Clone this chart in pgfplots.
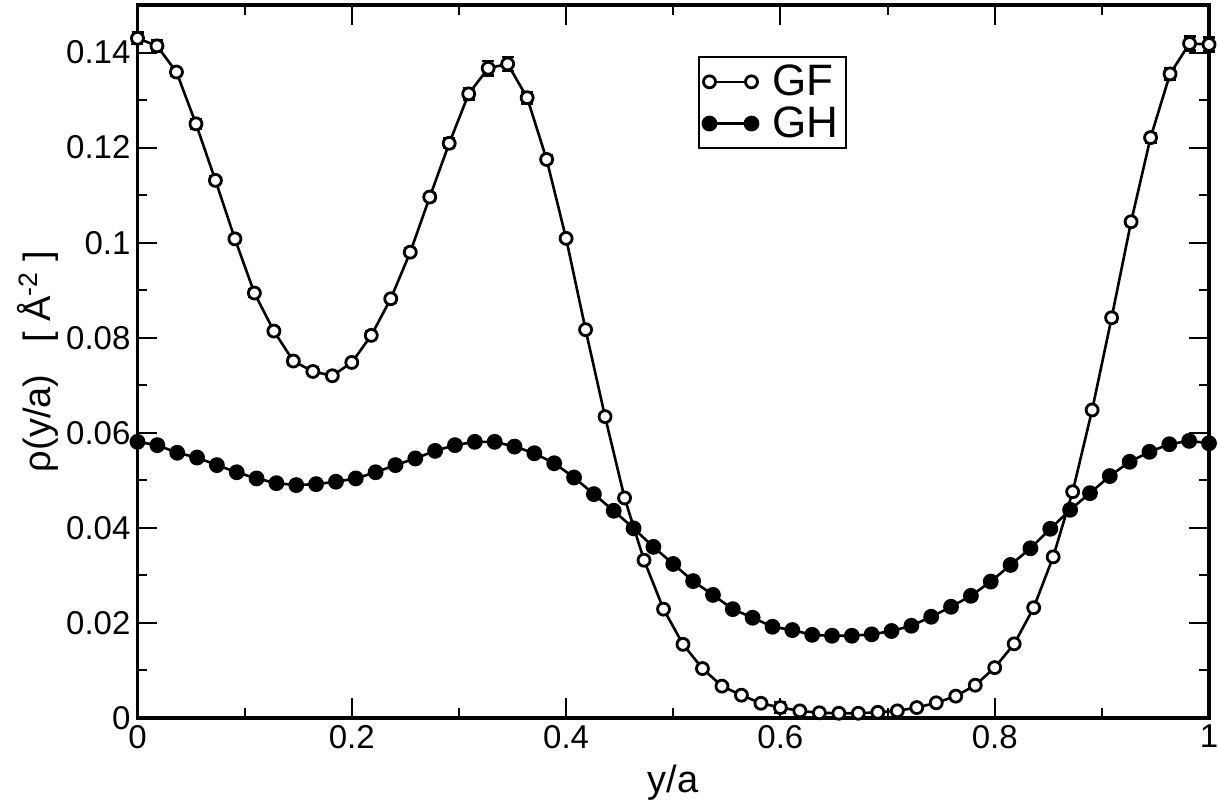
\documentclass[border=0pt]{standalone}
\usepackage{pgfplots}
\pgfplotsset{compat=1.18}
\usepackage{pgfplotstable}
\usepackage{fontspec}
\setmainfont{Liberation Sans}

\pgfplotstableread{
x y e
0 0.1430 0.0012
0.01818 0.1414 0.0012
0.03636 0.1359 0.0008
0.05455 0.1250 0.0010
0.07273 0.1131 0.0008
0.09091 0.1008 0.0008
0.10909 0.0894 0.0008
0.12727 0.0814 0.0008
0.14545 0.0751 0.0008
0.16364 0.0729 0.0008
0.18182 0.0720 0.0006
0.2 0.0748 0.0006
0.21818 0.0805 0.0008
0.23636 0.0882 0.0008
0.25455 0.0980 0.0008
0.27273 0.1096 0.0008
0.29091 0.1209 0.0010
0.30909 0.1313 0.0012
0.32727 0.1367 0.0015
0.34545 0.1376 0.0015
0.36364 0.1305 0.0012
0.38182 0.1175 0.0008
0.4 0.1009 0.0006
0.41818 0.0817 0.0006
0.43636 0.0634 0.0006
0.45455 0.0463 0.0005
0.47273 0.0332 0.0005
0.49091 0.0229 0.0005
0.50909 0.0155 0.0005
0.52727 0.0104 0.0005
0.54545 0.0067 0.0005
0.56364 0.0048 0.0005
0.58182 0.0031 0.0005
0.6 0.0022 0.0012
0.61818 0.0015 0.0005
0.63636 0.0011 0.0005
0.65455 0.0010 0.0005
0.67273 0.0010 0.0005
0.69091 0.0012 0.0005
0.70909 0.0015 0.0005
0.72727 0.0022 0.0005
0.74545 0.0032 0.0005
0.76364 0.0046 0.0005
0.78182 0.0069 0.0005
0.8 0.0106 0.0005
0.81818 0.0156 0.0005
0.83636 0.0232 0.0005
0.85455 0.0339 0.0005
0.87273 0.0476 0.0005
0.89091 0.0648 0.0006
0.90909 0.0842 0.0008
0.92727 0.1044 0.0008
0.94545 0.1221 0.0010
0.96364 0.1355 0.0012
0.98182 0.1419 0.0015
1 0.1417 0.0015
}\gfdata

\pgfplotstableread{
x y
0 0.0581
0.01852 0.0574
0.03704 0.0558
0.05556 0.0548
0.07407 0.0532
0.09259 0.0517
0.11111 0.0504
0.12963 0.0494
0.14815 0.0490
0.16667 0.0492
0.18519 0.0497
0.2037 0.0504
0.22222 0.0517
0.24074 0.0532
0.25926 0.0546
0.27778 0.0562
0.2963 0.0574
0.31481 0.0581
0.33333 0.0581
0.35185 0.0571
0.37037 0.0557
0.38889 0.0536
0.40741 0.0506
0.42593 0.0471
0.44444 0.0436
0.46296 0.0399
0.48148 0.0360
0.5 0.0324
0.51852 0.0288
0.53704 0.0259
0.55556 0.0229
0.57407 0.0211
0.59259 0.0192
0.61111 0.0185
0.62963 0.0175
0.64815 0.0173
0.66667 0.0173
0.68519 0.0176
0.7037 0.0183
0.72222 0.0194
0.74074 0.0213
0.75926 0.0234
0.77778 0.0257
0.7963 0.0287
0.81481 0.0322
0.83333 0.0357
0.85185 0.0398
0.87037 0.0438
0.88889 0.0473
0.90741 0.0509
0.92593 0.0539
0.94444 0.0560
0.96296 0.0576
0.98148 0.0583
1 0.0578
}\ghdata

\begin{document}
\begin{tikzpicture}
\begin{axis}[
  scale only axis,
  width=535.75pt, height=356.5pt,
  xmin=0, xmax=1, ymin=0, ymax=0.15,
  clip=false,
  axis line style={line width=1.6pt},
  tick style={line width=1pt, black},
  tick align=inside,
  major tick length=10pt,
  minor tick length=5pt,
  xtick={0,0.2,0.4,0.6,0.8,1},
  minor x tick num=1,
  ytick={0,0.02,0.04,0.06,0.08,0.1,0.12,0.14},
  minor y tick num=1,
  scaled y ticks=false,
  scaled x ticks=false,
  /pgf/number format/assume math mode=true,
  /pgf/number format/fixed,
  /pgf/number format/precision=2,
  ticklabel style={font=\fontsize{16.5}{19}\selectfont},
  xlabel={y/a},
  ylabel={ρ(y/a) \ \ [ Å\textsuperscript{-2} ]},
  every axis x label/.style={at={(axis description cs:0.5,0)}, yshift=-32.5pt, anchor=center, font=\fontsize{19}{22}\selectfont},
  every axis y label/.style={at={(axis description cs:0,0.5)}, xshift=-50pt, rotate=90, anchor=center, font=\fontsize{19}{22}\selectfont},
  legend style={at={(0.523,0.9285)}, anchor=north west, draw=black, line width=1pt,
    font=\fontsize{22}{22}\selectfont, inner sep=2pt, row sep=0pt,
    /tikz/every odd column/.append style={column sep=5pt}},
  legend cell align=left,
  legend image code/.code={\draw[#1] plot coordinates {(0pt,0pt) (21pt,0pt)};},
]
\addplot[black, line width=1.3pt, mark=*, mark size=3pt,
  mark options={fill=white, line width=1.4pt},
  error bars/.cd, y dir=both, y explicit,
  error bar style={line width=1.2pt},
  error mark options={rotate=90, mark size=3pt, line width=1.2pt}]
  table[x=x, y=y, y error=e] {\gfdata};
\addlegendentry{GF}
\addplot[black, line width=1.3pt, mark=*, mark size=3.3pt,
  mark options={fill=black}]
  table[x=x, y=y] {\ghdata};
\addlegendentry{GH}
\coordinate (BL) at (rel axis cs:0,0);
\end{axis}
\pgfresetboundingbox
\path ([shift={(-68.75pt,-42pt)}]BL) rectangle ++(609pt,401pt);
\end{tikzpicture}
\end{document}
